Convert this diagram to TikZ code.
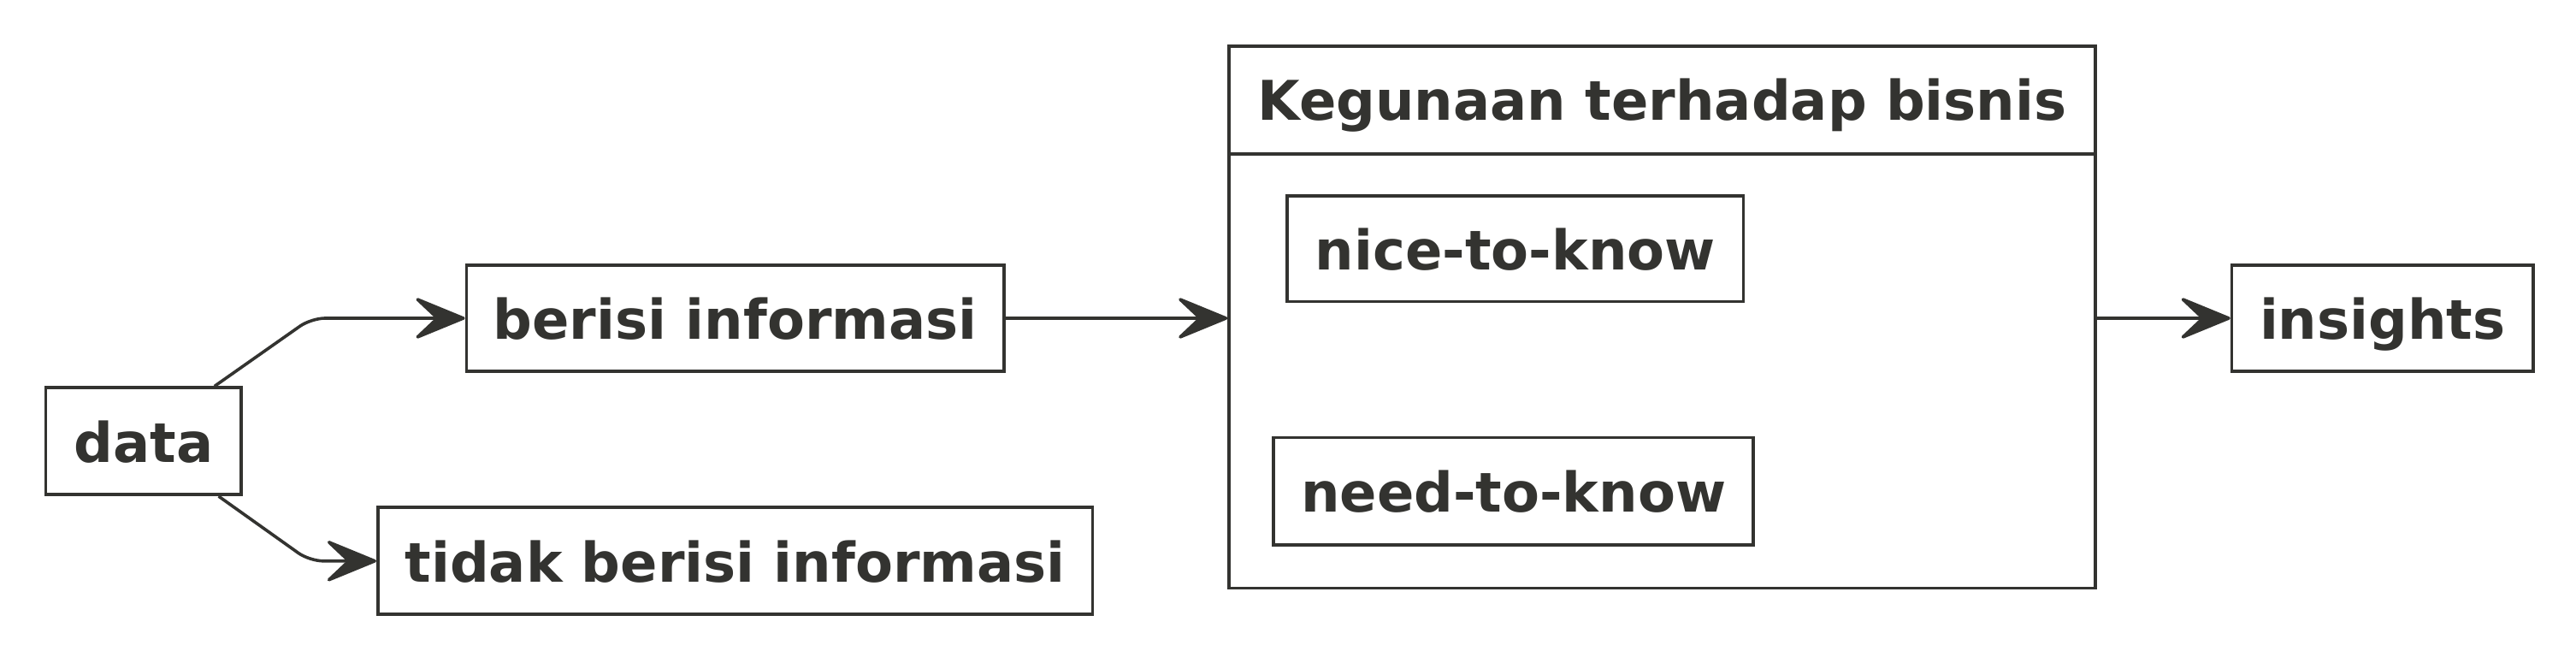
\documentclass[tikz,border=0pt]{standalone}
\usepackage{fontspec}
\setmainfont{DejaVu Sans}
\usetikzlibrary{arrows.meta}
\definecolor{ink}{RGB}{51,51,48}
\begin{document}
\begin{tikzpicture}[x=1pt,y=-1pt,
  box/.style={draw=ink, line width=0.9pt, inner sep=0pt, text=ink,
    font=\fontsize{16pt}{18pt}\selectfont\bfseries,
    text height=14pt, text depth=1.8pt, align=center},
  arr/.style={draw=ink, line width=0.9pt, line join=round, rounded corners=4pt,
    -{Stealth[length=16.6pt, width=13.6pt, inset=7.2pt, round]}}]
\useasboundingbox (0,0) rectangle (753,192);
\node[box, minimum width=57.1pt, minimum height=31.25pt] (data) at (41.95,128.95) {data};
\node[box, minimum width=157.1pt, minimum height=31pt] (berisi) at (214.9,93) {berisi informasi};
\node[box, minimum width=208.9pt, minimum height=31.25pt] (tidak) at (214.9,163.95) {tidak berisi informasi};
\node[draw=ink, line width=0.9pt, inner sep=0pt, minimum width=253.25pt, minimum height=158.45pt] (keg) at (485.9,92.7) {};
\node[box, draw=none, minimum width=253.25pt, minimum height=31.05pt, anchor=north] (kegt) at (keg.north) {Kegunaan terhadap bisnis};
\draw[draw=ink, line width=0.9pt] (kegt.south west) -- (kegt.south east);
\node[box, minimum width=133.3pt, minimum height=30.85pt] (nice) at (442.95,72.7) {nice-to-know};
\node[box, minimum width=140.3pt, minimum height=31.35pt] (need) at (442.4,143.6) {need-to-know};
\node[box, minimum width=88.1pt, minimum height=31pt] (ins) at (696.45,93) {insights};
\coordinate (c1) at (91,93);
\coordinate (c2) at (90.5,163.95);
\draw[arr] ([xshift=20.75pt]data.north) -- (c1) -- (berisi.west);
\draw[arr] ([xshift=21.95pt]data.south) -- (c2) -- (tidak.west);
\draw[arr] (berisi.east) -- (keg.west |- berisi.east);
\draw[arr] (keg.east |- ins.west) -- (ins.west);
\end{tikzpicture}
\end{document}
